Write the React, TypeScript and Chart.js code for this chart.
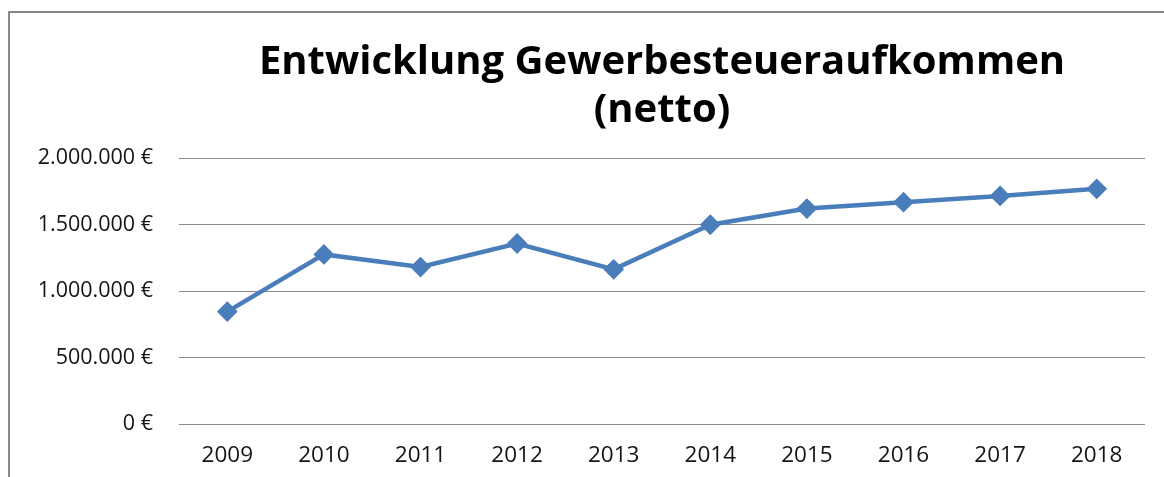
import React, { useEffect, useRef } from "react";
import { Chart, registerables } from "chart.js";

Chart.register(...registerables);

const years: string[] = ["2009", "2010", "2011", "2012", "2013", "2014", "2015", "2016", "2017", "2018"];
const revenue: number[] = [845000, 1275000, 1180000, 1357000, 1163000, 1498000, 1620000, 1668000, 1715000, 1768000];
const titleLines: string[] = ["Entwicklung Gewerbesteueraufkommen", "(netto)"];
const yMin = 0;
const yMax = 2000000;
const yStep = 500000;

const lineColor = "#4A7EBB";
const gridColor = "#8a8a8a";
const textColor = "#141414";

function formatEuro(v: number): string {
  const s = Math.round(v).toString().replace(/\B(?=(\d{3})+(?!\d))/g, ".");
  return s + "\u00a0€";
}

const titlePlugin = {
  id: "centeredTitle",
  afterDraw(chart: any) {
    const { ctx, chartArea } = chart;
    const cx = (chartArea.left + chartArea.right) / 2;
    ctx.save();
    ctx.fillStyle = "#000";
    ctx.font = "bold 40px 'Open Sans'";
    ctx.textAlign = "center";
    ctx.textBaseline = "alphabetic";
    ctx.fillText(titleLines[0], cx, 74);
    ctx.fillText(titleLines[1], cx, 122);
    ctx.restore();
  },
};

export default function App() {
  const ref = useRef<HTMLCanvasElement | null>(null);
  useEffect(() => {
    if (!ref.current) return;
    const chart = new Chart(ref.current, {
      type: "line",
      data: {
        labels: years,
        datasets: [
          {
            data: revenue,
            borderColor: lineColor,
            backgroundColor: lineColor,
            borderWidth: 4.5,
            pointStyle: "rectRot",
            pointRadius: 9,
            pointBorderWidth: 2,
            pointBorderColor: lineColor,
            pointBackgroundColor: lineColor,
            tension: 0,
          },
        ],
      },
      options: {
        responsive: false,
        animation: false,
        layout: { padding: { top: 158, right: 19, bottom: 0, left: 0 } },
        plugins: {
          legend: { display: false },
          title: { display: false },
          tooltip: { enabled: false },
        },
        scales: {
          x: {
            offset: true,
            grid: { display: false, drawTicks: false },
            border: { display: false },
            ticks: {
              color: textColor,
              padding: 18,
              font: { family: "'Open Sans'", size: 22.5 },
            },
            afterFit: (s: any) => {
              s.height = 53;
            },
          },
          y: {
            min: yMin,
            max: yMax,
            grid: { color: gridColor, lineWidth: 1, drawTicks: false },
            border: { display: false },
            ticks: {
              stepSize: yStep,
              color: textColor,
              padding: 26,
              font: { family: "'Open Sans'", size: 21.5 },
              callback: (v: any) => formatEuro(Number(v)),
            },
            afterFit: (s: any) => {
              s.width = 179;
            },
          },
        },
      },
      plugins: [titlePlugin],
    });
    return () => chart.destroy();
  }, []);

  return (
    <div style={{ position: "fixed", left: 0, top: 0, width: 1164, height: 477, overflow: "hidden", background: "#fff" }}>
      <div
        style={{
          position: "absolute",
          left: 8,
          top: 11,
          width: 1300,
          height: 600,
          borderLeft: "2px solid #878787",
          borderTop: "2px solid #878787",
        }}
      />
      <canvas ref={ref} width={1164} height={477} style={{ position: "absolute", left: 0, top: 0 }} />
    </div>
  );
}
